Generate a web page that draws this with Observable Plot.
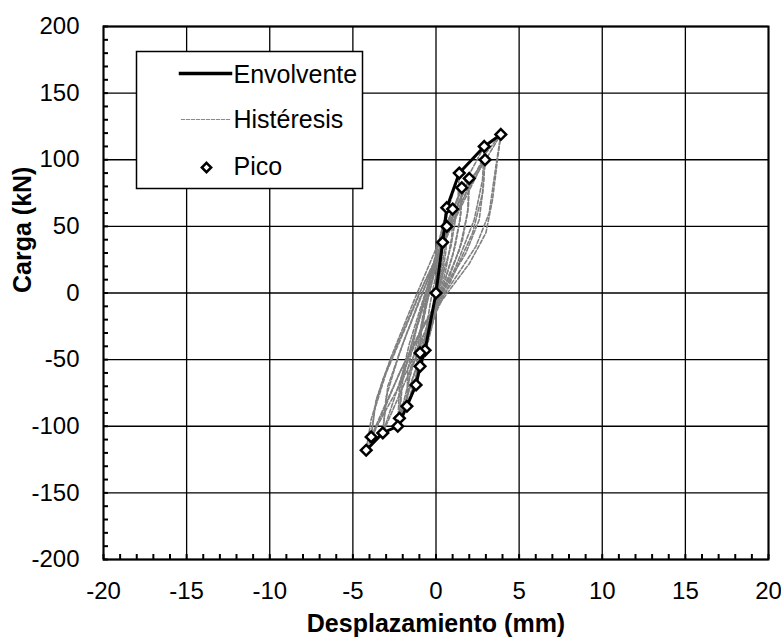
<!DOCTYPE html>
<html><head><meta charset="utf-8">
<script src="https://cdn.jsdelivr.net/npm/d3@7"></script>
<script src="https://cdn.jsdelivr.net/npm/@observablehq/plot@0.6"></script>
<style>
body{margin:0;background:#fff;}
svg{font-family:"Liberation Sans",Arial,sans-serif;}
</style>
</head><body><div id="chart"></div>
<script>
// Tick labels
const xTicks = [-20, -15, -10, -5, 0, 5, 10, 15, 20];
const yTicks = [-200, -150, -100, -50, 0, 50, 100, 150, 200];
const xMinor = d3.range(-20, 21, 1);
const yMinor = d3.range(-200, 201, 10);

// Peak points (Pico)
const peakX = [0, 0.4, 0.65, 0.65, 1.0, 1.4, 1.55, 2.0, 2.9, 2.95, 3.9, -0.66, -0.96, -0.96, -1.2, -1.75, -2.2, -2.3, -3.2, -3.9, -4.2];
const peakY = [0, 38, 50, 64, 63, 90, 79, 86, 110, 100, 119, -43, -45, -55, -69, -85, -94, -100, -105, -108, -118];

// Envelope (Envolvente)
const envX = [-4.2, -3.2, -2.3, -1.75, -1.2, -0.96, -0.66, 0, 0.4, 0.65, 1.4, 2.9, 3.9];
const envY = [-118, -105, -100, -85, -69, -55, -43, 0, 38, 64, 90, 110, 119];

// Hysteresis loops (Histéresis), [x, y] pairs
const h1 = [[0,0],[0.2,24],[0.4,38],[0.35,22],[0.15,4],[-0.2,-18],[-0.66,-43],[-0.6,-28],[-0.35,-8],[0,14],[0.4,38]];
const h2 = [[0.4,38],[0.55,46],[0.65,50],[0.6,32],[0.35,10],[0,-12],[-0.5,-30],[-0.96,-45],[-0.9,-30],[-0.55,-8],[-0.1,16],[0.35,36],[0.65,50]];
const h3 = [[0.65,64],[0.62,45],[0.4,20],[0,-8],[-0.5,-32],[-0.96,-55],[-0.95,-35],[-0.65,-10],[-0.2,18],[0.3,44],[0.65,64]];
const h4 = [[1.0,63],[0.95,42],[0.6,18],[0.1,-8],[-0.5,-38],[-1.2,-69],[-1.15,-45],[-0.8,-18],[-0.3,12],[0.4,42],[1.0,63]];
const h5 = [[1.55,79],[1.45,55],[1.0,28],[0.3,0],[-0.6,-40],[-1.75,-85],[-1.7,-58],[-1.2,-28],[-0.5,5],[0.5,45],[1.55,79]];
const h6 = [[1.4,90],[1.3,65],[0.9,35],[0.2,5],[-0.9,-45],[-2.2,-94],[-2.0,-65],[-1.4,-35],[-0.6,0],[0.4,50],[1.4,90]];
const h7 = [[2.0,86],[1.9,60],[1.4,32],[0.5,5],[-0.9,-45],[-2.3,-100],[-2.2,-70],[-1.6,-38],[-0.7,-2],[0.6,45],[2.0,86]];
const h8 = [[2.95,100],[2.8,75],[2.2,45],[1.0,12],[-0.5,-28],[-1.8,-65],[-3.2,-105],[-3.0,-78],[-2.2,-45],[-1.0,-5],[0.5,40],[1.8,75],[2.95,100]];
const h9 = [[2.9,110],[2.8,85],[2.3,55],[1.2,20],[-0.4,-22],[-2.0,-65],[-3.9,-108],[-3.6,-80],[-2.7,-48],[-1.3,-5],[0.4,45],[1.7,82],[2.9,110]];
const h10 = [[3.9,119],[3.6,95],[3.2,60],[2.4,35],[1.2,12],[0.0,-10],[-1.0,-30],[-2.2,-60],[-3.2,-90],[-4.2,-118],[-3.9,-95],[-3.2,-65],[-2.2,-35],[-1.0,0],[0.2,30],[1.4,62],[2.6,92],[3.9,119]];
const h11 = [[3.9,119],[3.7,100],[3.4,70],[3.0,45],[2.0,22],[0.8,2],[-0.6,-22],[-2.0,-55],[-3.1,-85],[-3.9,-108],[-3.7,-88],[-3.0,-60],[-1.8,-25],[-0.7,8],[0.6,42],[1.9,78],[3.0,105],[3.9,119]];
const h12 = [[2.95,100],[2.85,80],[2.6,55],[1.8,30],[0.6,5],[-0.8,-25],[-2.0,-60],[-3.2,-105],[-2.9,-70],[-1.9,-35],[-0.8,0],[0.6,45],[1.9,82],[2.95,100]];
const h13 = [[2.0,86],[1.95,65],[1.6,40],[0.8,12],[-0.4,-20],[-1.4,-55],[-2.2,-94],[-2.1,-68],[-1.5,-40],[-0.5,0],[0.7,50],[2.0,86]];
const h14 = [[1.55,79],[1.5,60],[1.15,35],[0.5,8],[-0.4,-30],[-1.2,-62],[-1.75,-85],[-1.6,-60],[-1.0,-30],[-0.3,5],[0.6,50],[1.55,79]];
const loops = [h1, h2, h3, h4, h5, h6, h7, h8, h9, h10, h11, h12, h13, h14];

const legendLabels = ["Envolvente", "Histéresis", "Pico"];

// Build tables
const hyst = loops.flatMap((L, i) => L.map(([x, y]) => ({x, y, loop: i})));
const env = envX.map((x, i) => ({x, y: envY[i]}));
const peaks = peakX.map((x, i) => ({x, y: peakY[i]}));

const W = 781, H = 639, mL = 103, mR = 13, mT = 26, mB = 80;
const fRight = W - mR; // 768
const fmt = d => String(d);

const chart = Plot.plot({
  width: W, height: H,
  marginLeft: mL, marginRight: mR, marginTop: mT, marginBottom: mB,
  x: {domain: [-20, 20]},
  y: {domain: [-200, 200]},
  style: {fontFamily: '"Liberation Sans", Arial, sans-serif', fontSize: "24px", color: "#000", background: "#fff"},
  marks: [
    Plot.ruleX(xTicks, {stroke: "#000", strokeWidth: 1.3}),
    Plot.ruleY(yTicks, {stroke: "#000", strokeWidth: 1.3}),
    Plot.frame({stroke: "#000", strokeWidth: 2}),
    Plot.axisX(xMinor, {tickSize: -5, tickFormat: () => "", strokeWidth: 2, label: null}),
    Plot.axisY(yMinor, {tickSize: -5, tickFormat: () => "", strokeWidth: 2, label: null}),
    Plot.axisX(xTicks, {tickSize: 0, tickPadding: 22, fontSize: 24, tickFormat: fmt, label: null}),
    Plot.axisY(yTicks, {tickSize: 0, tickPadding: 24, fontSize: 24, tickFormat: fmt, label: null}),
    Plot.line(hyst, {x: "x", y: "y", z: "loop", stroke: "#808080", strokeWidth: 1.6, strokeDasharray: "4,2"}),
    Plot.line(env, {x: "x", y: "y", stroke: "#000", strokeWidth: 3}),
    Plot.dot(peaks, {x: "x", y: "y", symbol: "diamond2", r: 4.8, stroke: "#000", strokeWidth: 2.5, fill: "#fff"}),
    // axis titles
    Plot.text(["Carga (kN)"], {frameAnchor: "left", dx: -81, rotate: -90, fontWeight: "bold", fontSize: 25}),
    Plot.text(["Desplazamiento (mm)"], {frameAnchor: "bottom", dy: 72, fontWeight: "bold", fontSize: 25}),
    // legend
    Plot.frame({insetLeft: 136 - mL, insetTop: 51 - mT, insetRight: fRight - 362, insetBottom: (H - mB) - 188, fill: "#fff", stroke: "#000", strokeWidth: 1.5}),
    Plot.frame({anchor: "top", insetTop: 73 - mT, insetLeft: 180 - mL, insetRight: fRight - 230, stroke: "#000", strokeWidth: 3.5}),
    Plot.frame({anchor: "top", insetTop: 119 - mT, insetLeft: 181 - mL, insetRight: fRight - 229, stroke: "#8a8a8a", strokeWidth: 1.2, strokeDasharray: "3,2"}),
    Plot.dot([0], {frameAnchor: "top-left", dx: 206 - mL, dy: 167 - mT, symbol: "diamond2", r: 4.2, stroke: "#000", strokeWidth: 2.5, fill: "#fff"}),
    Plot.text([legendLabels[0]], {frameAnchor: "top-left", dx: 233 - mL, dy: 65 - mT, textAnchor: "start", fontSize: 25}),
    Plot.text([legendLabels[1]], {frameAnchor: "top-left", dx: 233 - mL, dy: 110 - mT, textAnchor: "start", fontSize: 25}),
    Plot.text([legendLabels[2]], {frameAnchor: "top-left", dx: 233 - mL, dy: 157 - mT, textAnchor: "start", fontSize: 25})
  ]
});
document.getElementById("chart").appendChild(chart);
</script>
</body></html>
